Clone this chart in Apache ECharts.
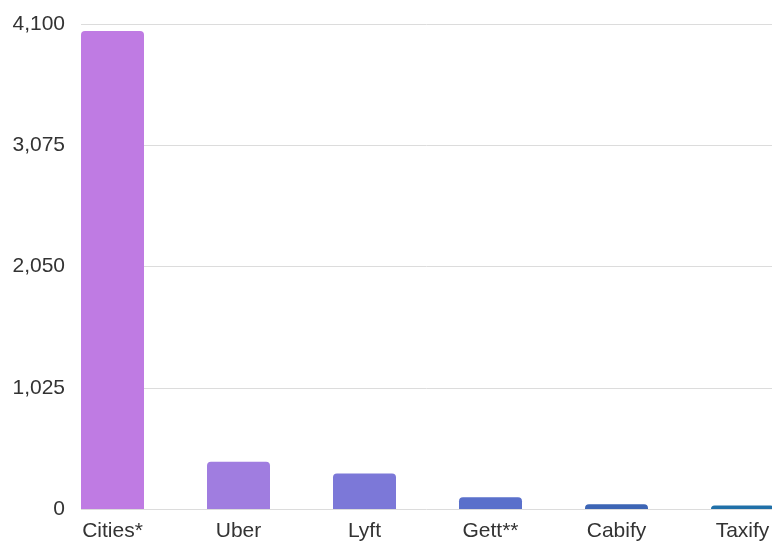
<!DOCTYPE html>
<html>
<head>
<meta charset="utf-8">
<script src="https://cdn.jsdelivr.net/npm/echarts@6/dist/echarts.min.js"></script>
<style>html,body{margin:0;padding:0;background:#fff}#c{width:772px;height:542px}</style>
</head>
<body>
<div id="c"></div>
<script>
const categories = ["Cities*", "Uber", "Lyft", "Gett**", "Cabify", "Taxify"];
const values = [4040, 400, 300, 100, 40, 30];
const colors = ["#BF7BE3", "#A07DE0", "#7C78D8", "#5A70CB", "#3D65B5", "#2070A8"];
const yTicks = [0, 1025, 2050, 3075, 4100];

const FONT = 'Liberation Sans, Arial, sans-serif';
const chart = echarts.init(document.getElementById('c'), null, {renderer: 'canvas'});
chart.setOption({
  animation: false,
  backgroundColor: '#fff',
  grid: [
    {left: 81, top: 24, width: 691, height: 485, containLabel: false, outerBoundsMode: 'none'},
    {left: 49.5, top: 24, width: 756, height: 485, containLabel: false, outerBoundsMode: 'none'}
  ],
  xAxis: [
    {gridIndex: 0, type: 'value', min: 0, max: 1, show: false, splitLine: {show: false}},
    {
      gridIndex: 1,
      type: 'category',
      data: categories,
      axisLine: {show: false},
      axisTick: {show: false},
      axisLabel: {color: '#333', fontFamily: FONT, fontSize: 21, margin: 12}
    }
  ],
  yAxis: [
    {
      gridIndex: 0,
      type: 'value',
      min: 0, max: yTicks[yTicks.length - 1], interval: 1025,
      axisLine: {show: false},
      axisTick: {show: false},
      splitLine: {lineStyle: {color: '#dcdcdc', width: 1}},
      axisLabel: {
        color: '#333', fontFamily: FONT, fontSize: 21, margin: 16,
        formatter: v => v.toLocaleString('en-US')
      }
    },
    {
      gridIndex: 1,
      type: 'value',
      min: 0, max: yTicks[yTicks.length - 1], interval: 1025,
      show: false, splitLine: {show: false}
    }
  ],
  series: [{
    type: 'bar',
    xAxisIndex: 1, yAxisIndex: 1,
    barWidth: 63,
    data: values.map((v, i) => ({value: v, itemStyle: {color: colors[i]}})),
    itemStyle: {borderRadius: [4, 4, 0, 0]}
  }]
});
</script>
</body>
</html>
